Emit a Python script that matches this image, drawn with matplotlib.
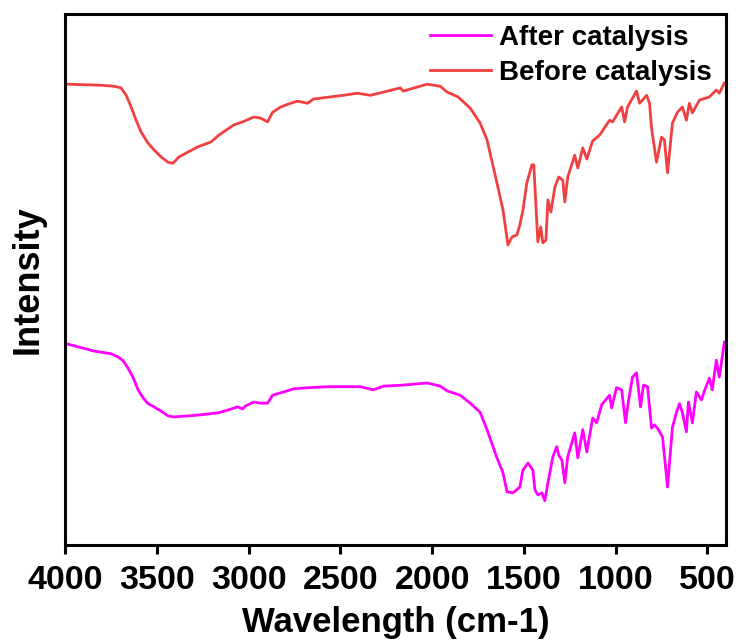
import numpy as np
import matplotlib.pyplot as plt

plt.rcParams['font.family'] = ['Liberation Sans', 'DejaVu Sans']
plt.rcParams['font.weight'] = 'bold'

# FTIR spectra, wavenumber (cm-1) vs relative intensity
before_wn = [3995, 3804, 3734, 3696, 3668, 3641, 3614, 3587, 3549, 3516, 3478, 3440,
             3413, 3380, 3331, 3277, 3206, 3163, 3082, 3033,
             2973, 2935, 2897, 2870, 2826, 2772, 2734, 2679, 2647, 2484, 2408, 2337,
             2266, 2174, 2158, 2027, 1956, 1918, 1859, 1793, 1739, 1701, 1647, 1614,
             1587, 1565, 1538, 1522, 1505, 1484, 1456, 1446, 1435, 1424, 1408, 1397,
             1380, 1369, 1353, 1331, 1310, 1288, 1277, 1261, 1223, 1206, 1179, 1157,
             1125, 1087, 1033, 1016, 967, 951, 935, 886, 869, 831, 815, 804, 777, 750,
             734, 717, 690, 663, 636, 614, 598, 581, 543, 489, 451, 435, 407]
before_int = [86.8, 86.6, 86.4, 86.1, 84.7, 82.5, 80.0, 77.8, 75.7, 74.4, 73.1, 72.1,
              71.9, 73.1, 74.0, 75.0, 75.9, 77.2, 79.1, 79.7,
              80.6, 80.4, 79.7, 81.5, 82.5, 83.2, 83.6, 83.2, 84.0, 84.7, 85.1, 84.7,
              85.3, 86.1, 85.5, 86.8, 86.4, 85.3, 84.4, 82.3, 79.5, 76.3, 68.2, 63.1,
              56.5, 58.0, 58.4, 60.3, 63.1, 68.2, 71.6, 71.6, 64.4, 57.1, 59.9, 56.9,
              57.4, 65.0, 62.7, 67.4, 69.3, 68.7, 64.6, 69.3, 73.4, 71.0, 74.8, 72.7,
              76.1, 77.2, 80.0, 79.7, 82.5, 79.7, 82.5, 85.5, 83.2, 84.7, 83.2, 78.5,
              72.1, 76.8, 76.3, 70.1, 79.5, 81.5, 82.5, 80.0, 83.2, 81.4, 83.8, 84.4,
              85.7, 85.1, 87.0]

after_wn = [3995, 3842, 3804, 3750, 3712, 3685, 3658, 3630, 3603, 3576, 3549, 3516,
            3478, 3440, 3408, 3331, 3261, 3163, 3114,
            3060, 3033, 3016, 2973, 2935, 2897, 2870, 2810, 2755, 2679, 2571, 2391,
            2321, 2266, 2158, 2027, 1956, 1918, 1848, 1793, 1739, 1701, 1647, 1614,
            1592, 1560, 1522, 1505, 1478, 1451, 1440, 1424, 1402, 1386, 1369, 1342,
            1321, 1310, 1293, 1277, 1261, 1223, 1206, 1179, 1157, 1125, 1103, 1076,
            1033, 1022, 995, 967, 946, 929, 908, 886, 864, 848, 826, 804, 788, 772,
            744, 717, 690, 668, 652, 636, 614, 603, 581, 560, 532, 516, 489, 473, 451,
            435, 407]
after_int = [37.9, 36.5, 36.3, 36.0, 35.4, 34.7, 33.3, 31.5, 29.2, 27.7, 26.6, 26.0,
             25.2, 24.3, 24.1, 24.3, 24.5, 24.9, 25.4,
             26.0, 25.6, 26.2, 26.9, 26.7, 26.7, 28.2, 28.8, 29.4, 29.6, 29.8, 29.8,
             29.2, 29.9, 30.1, 30.5, 29.9, 29.0, 28.2, 26.7, 25.0, 21.7, 16.4, 13.6,
             10.0, 9.8, 10.9, 14.1, 15.4, 14.1, 10.4, 9.4, 9.8, 8.3, 11.7, 16.6,
             18.5, 16.9, 16.0, 11.7, 16.6, 21.1, 16.4, 21.7, 17.5, 23.9, 23.0, 26.4,
             28.2, 25.8, 29.6, 29.2, 23.0, 27.3, 31.6, 32.4, 26.0, 30.1, 29.8, 22.0,
             22.6, 22.0, 20.3, 10.9, 22.2, 25.0, 26.6, 24.9, 21.3, 26.9, 23.0, 28.8,
             27.3, 29.0, 31.4, 29.2, 34.8, 31.6, 38.2]

fig = plt.figure(figsize=(7.42, 6.41), dpi=100)
ax = fig.add_axes([0.088, 0.150, 0.890, 0.828])

ax.plot(after_wn, after_int, color='#FF00FF', lw=2.0, solid_joinstyle='round',
        label='After catalysis')
ax.plot(before_wn, before_int, color='#F04040', lw=2.0, solid_joinstyle='round',
        label='Before catalysis')

ax.set_xlim(4000, 400)
ax.set_ylim(0, 100)
ax.set_xticks([4000, 3500, 3000, 2500, 2000, 1500, 1000, 500])
ax.set_yticks([])
ax.tick_params(axis='x', direction='out', length=6.5, width=2.2, pad=8,
               labelsize=24.5)
for lab in ax.get_xticklabels():
    lab.set_fontweight('bold')
for s in ax.spines.values():
    s.set_linewidth(2.2)

ax.set_xlabel('Wavelength (cm-1)', fontsize=25, fontweight='bold', labelpad=7)
ax.set_ylabel('Intensity', fontsize=26, fontweight='bold', labelpad=14)

leg = ax.legend(loc='upper right', bbox_to_anchor=(0.996, 1.0), frameon=False,
                fontsize=20, handlelength=2.2, borderaxespad=0.0,
                labelspacing=0.3, handletextpad=0.3)
for t in leg.get_texts():
    t.set_fontweight('bold')

fig.savefig('out.png', dpi=100)
